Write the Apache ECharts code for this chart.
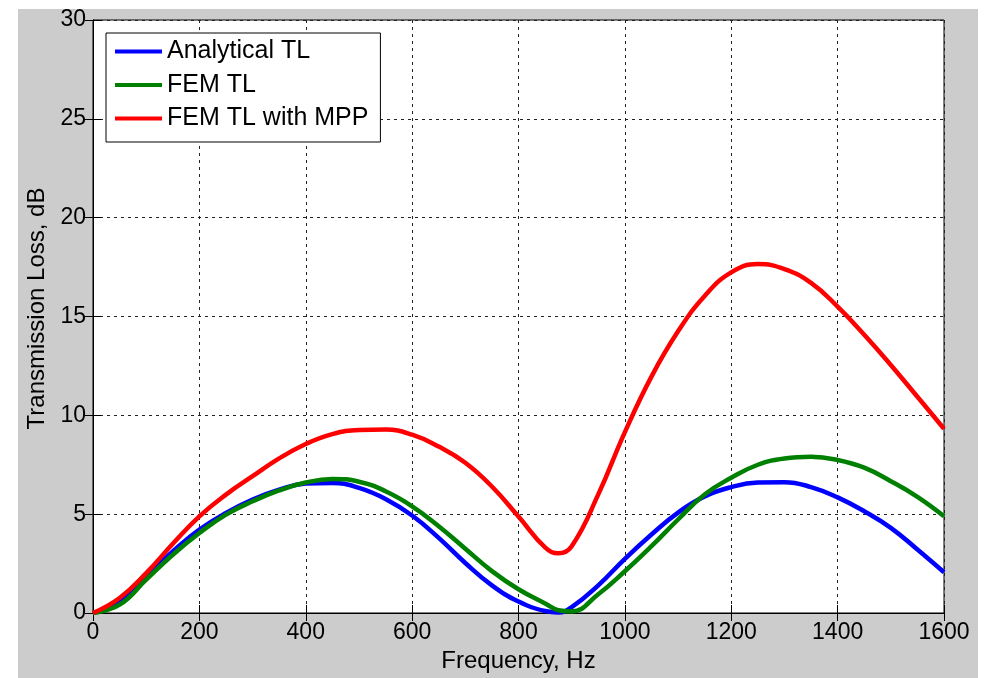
<!DOCTYPE html>
<html>
<head>
<meta charset="utf-8">
<script src="https://cdn.jsdelivr.net/npm/echarts@6/dist/echarts.min.js"></script>
<style>
html,body{margin:0;padding:0;background:#ffffff;}
#bg{position:absolute;left:18px;top:9px;width:960px;height:669px;background:#cccccc;}
#main{position:absolute;left:0;top:0;width:986px;height:678px;}
</style>
</head>
<body>
<div id="bg"></div>
<div id="main"></div>
<script>
// ---- data ----
const freq =         [0, 50, 100, 150, 200, 250, 300, 350, 400, 450, 500, 550, 600, 650, 700, 750, 800, 850, 875, 900, 950, 1000, 1050, 1100, 1150, 1200, 1250, 1300, 1350, 1400, 1450, 1500, 1550, 1600];
const analyticalTL = [0, 0.59, 1.89, 3.12, 4.22, 5.06, 5.74, 6.24, 6.55, 6.58, 6.33, 5.77, 4.93, 3.80, 2.53, 1.40, 0.58, 0.10, 0.03, 0.30, 1.40, 2.74, 3.97, 5.08, 5.90, 6.37, 6.60, 6.62, 6.37, 5.85, 5.15, 4.31, 3.21, 2.06];
const femTL =        [0, 0.42, 1.69, 2.95, 4.05, 4.98, 5.65, 6.20, 6.60, 6.78, 6.64, 6.16, 5.40, 4.39, 3.25, 2.12, 1.20, 0.48, 0.14, 0.08, 0.95, 2.11, 3.38, 4.73, 6.00, 6.84, 7.50, 7.82, 7.90, 7.74, 7.35, 6.67, 5.88, 4.90];
const femMppTL =     [0, 0.76, 2.02, 3.50, 4.89, 5.99, 6.92, 7.82, 8.55, 9.05, 9.26, 9.28, 9.02, 8.42, 7.60, 6.40, 4.88, 3.32, 3.02, 3.38, 6.00, 9.15, 11.96, 14.25, 16.04, 17.23, 17.65, 17.40, 16.70, 15.50, 14.08, 12.55, 10.94, 9.32];
const seriesNames = ['Analytical TL', 'FEM TL', 'FEM TL with MPP'];
const xTicks = {min: 0, max: 1600, interval: 200};
const yTicks = {min: 0, max: 30, interval: 5};
const xName = 'Frequency, Hz';
const yName = 'Transmission Loss, dB';

const pairs = arr => freq.map((f, i) => [f, arr[i]]);
const font = 'Arial, "Liberation Sans", sans-serif';

const chart = echarts.init(document.getElementById('main'), null, {renderer: 'canvas'});
const gridLine = {show: true, lineStyle: {color: '#222', width: 1, type: [3, 4]}};
const tick = {show: true, inside: true, length: 8, lineStyle: {color: '#000', width: 1}};
const line = {show: true, lineStyle: {color: '#000', width: 1}};
const plain = v => String(v);

chart.setOption({
  backgroundColor: 'transparent',
  animation: false,
  grid: {left: 93, top: 20, right: 42, bottom: 65, show: true, backgroundColor: '#ffffff', borderColor: '#000', borderWidth: 1},
  legend: {
    orient: 'vertical', left: 106, top: 33,
    backgroundColor: '#ffffff', borderColor: '#000', borderWidth: 1,
    padding: [6, 12, 11, 9],
    itemGap: 8.5, itemWidth: 47, itemHeight: 4, icon: 'rect',
    textStyle: {fontFamily: font, fontSize: 25, color: '#000', lineHeight: 25},
    data: seriesNames
  },
  xAxis: [
    {type: 'value', min: xTicks.min, max: xTicks.max, interval: xTicks.interval,
     name: xName, nameLocation: 'middle', nameGap: 36,
     nameTextStyle: {fontFamily: font, fontSize: 24, color: '#000'},
     axisLine: line, axisTick: tick, splitLine: gridLine,
     axisLabel: {fontFamily: font, fontSize: 23, color: '#000', margin: 8, formatter: plain}},
    {type: 'value', position: 'top', min: xTicks.min, max: xTicks.max, interval: xTicks.interval,
     axisLine: line, axisTick: tick, splitLine: {show: false}, axisLabel: {show: false}}
  ],
  yAxis: [
    {type: 'value', min: yTicks.min, max: yTicks.max, interval: yTicks.interval,
     name: yName, nameLocation: 'middle', nameGap: 44,
     nameTextStyle: {fontFamily: font, fontSize: 24, color: '#000', padding: [0, 0, 0, 16]},
     axisLine: line, axisTick: tick, splitLine: gridLine,
     axisLabel: {fontFamily: font, fontSize: 23, color: '#000', margin: 7, formatter: plain}},
    {type: 'value', position: 'right', min: yTicks.min, max: yTicks.max, interval: yTicks.interval,
     axisLine: line, axisTick: tick, splitLine: {show: false}, axisLabel: {show: false}}
  ],
  series: [
    {name: seriesNames[0], type: 'line', data: pairs(analyticalTL), smooth: 0.45, showSymbol: false,
     itemStyle: {color: '#0000ff'}, lineStyle: {color: '#0000ff', width: 4.5}},
    {name: seriesNames[1], type: 'line', data: pairs(femTL), smooth: 0.45, showSymbol: false,
     itemStyle: {color: '#008000'}, lineStyle: {color: '#008000', width: 4.5}},
    {name: seriesNames[2], type: 'line', data: pairs(femMppTL), smooth: 0.45, showSymbol: false,
     itemStyle: {color: '#ff0000'}, lineStyle: {color: '#ff0000', width: 4.5}}
  ]
});
</script>
</body>
</html>
